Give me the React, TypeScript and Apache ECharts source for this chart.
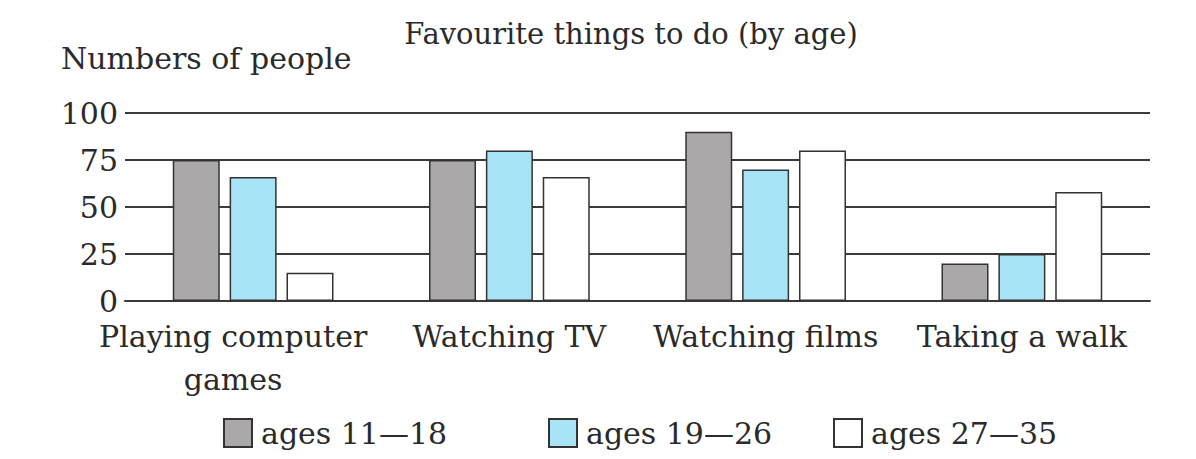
import * as echarts from 'echarts';
import { useEffect, useRef } from 'react';

const categories = ['Playing computer\ngames', 'Watching TV', 'Watching films', 'Taking a walk'];
const seriesNames = ['ages 11\u201418', 'ages 19\u201426', 'ages 27\u201435'];
const ages11to18 = [75, 75, 90, 20];
const ages19to26 = [66, 80, 70, 25];
const ages27to35 = [15, 66, 80, 58];
const yTicks = [0, 25, 50, 75, 100];

const FONT = '"DejaVu Serif", "Liberation Serif", serif';
const TEXT = '#2a2a2a';
const LINE = '#3a3a3a';

const App: React.FC = () => {
  const chartRef = useRef<HTMLDivElement>(null);

  useEffect(() => {
    if (!chartRef.current) return;
    const chart = echarts.init(chartRef.current, null, { renderer: 'svg' });

    const fills = ['#aaa8a9', '#a9e3f6', '#ffffff'];
    const data = [ages11to18, ages19to26, ages27to35];
    const legendLefts = [218, 543, 828];

    chart.setOption({
      animation: false,
      backgroundColor: '#ffffff',
      title: [
        {
          text: 'Favourite things to do (by age)',
          left: 626,
          top: 14,
          textAlign: 'center',
          textStyle: { fontFamily: FONT, fontSize: 29, fontWeight: 'normal', color: TEXT },
        },
        {
          text: 'Numbers of people',
          left: 56,
          top: 38,
          textStyle: { fontFamily: FONT, fontSize: 30, fontWeight: 'normal', color: TEXT },
        },
      ],
      legend: seriesNames.map((name, i) => ({
        left: legendLefts[i],
        top: 413,
        itemWidth: 28,
        itemHeight: 28,
        icon: 'rect',
        data: [name],
        textStyle: { fontFamily: FONT, fontSize: 30, color: TEXT, padding: [0, 0, 0, 4] },
      })),
      grid: { left: 125, right: 46, top: 113, bottom: 158 },
      xAxis: {
        type: 'category',
        data: categories,
        axisLine: { show: true, lineStyle: { color: LINE, width: 2 } },
        axisTick: { show: false },
        axisLabel: {
          interval: 0,
          margin: 14,
          fontFamily: FONT,
          fontSize: 30,
          color: TEXT,
          lineHeight: 43,
          formatter: (value: string, index: number) =>
            index === 0
              ? value.split('\n').map((s) => `{first|${s}}`).join('\n')
              : value,
          rich: {
            first: {
              fontFamily: FONT,
              fontSize: 30,
              color: TEXT,
              lineHeight: 43,
              padding: [0, 40, 0, 0],
            },
          },
        },
      },
      yAxis: {
        type: 'value',
        min: yTicks[0],
        max: yTicks[yTicks.length - 1],
        interval: 25,
        axisLine: { show: false },
        axisTick: { show: false },
        axisLabel: { margin: 7, fontFamily: FONT, fontSize: 30, color: TEXT },
        splitLine: { show: true, lineStyle: { color: LINE, width: 2 } },
      },
      series: seriesNames.map((name, i) => ({
        name,
        type: 'bar',
        data: data[i],
        barWidth: 47,
        barGap: '21%',
        itemStyle: { color: fills[i], borderColor: '#333333', borderWidth: 1.5 },
      })),
    });

    return () => {
      if (!chart.isDisposed()) chart.dispose();
    };
  }, []);

  return (
    <div
      ref={chartRef}
      style={{ position: 'fixed', left: 0, top: 0, width: '1196px', height: '459px' }}
    />
  );
};

export default App;
